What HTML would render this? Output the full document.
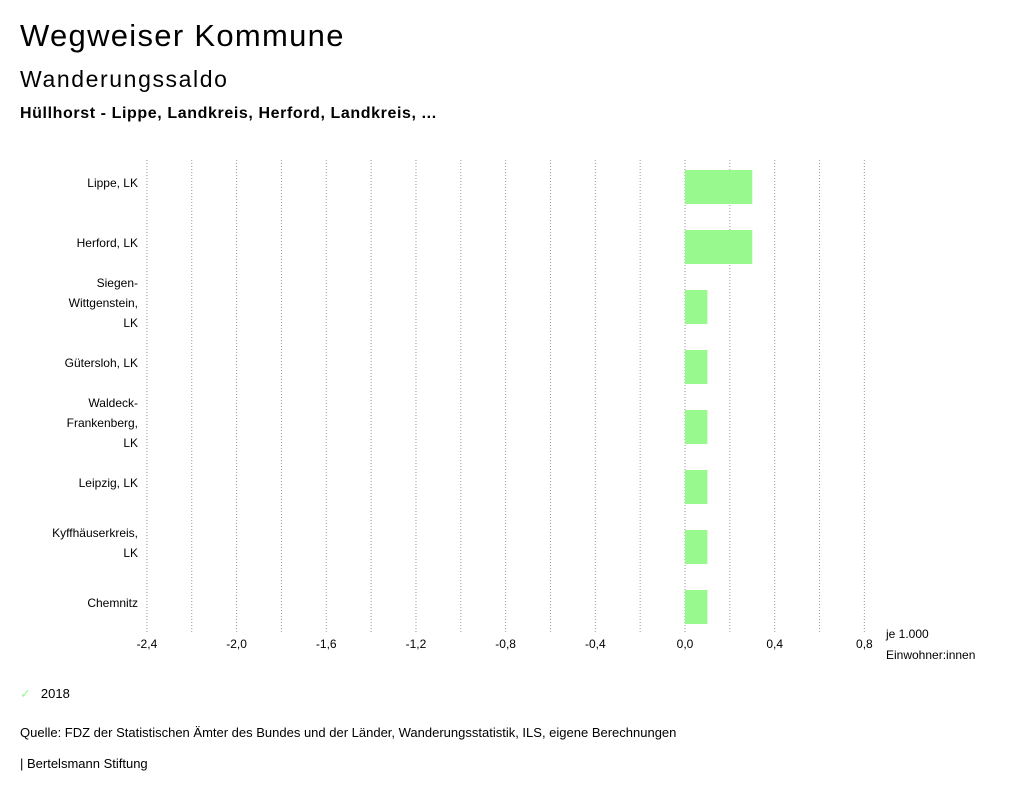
<!DOCTYPE html>
<html><head><meta charset="utf-8">
<style>
body{margin:0;background:#fff;font-family:"Liberation Sans",sans-serif;color:#000;}
#wrap{position:relative;width:1024px;height:797px;overflow:hidden;}
.t{position:absolute;white-space:nowrap;}
svg text{font-family:"Liberation Sans",sans-serif;font-size:12px;}
</style></head><body>
<div id="wrap">
<div class="t" style="left:20px;top:18px;font-size:31px;letter-spacing:1.3px;">Wegweiser Kommune</div>
<div class="t" style="left:20px;top:66px;font-size:23px;letter-spacing:1.6px;">Wanderungssaldo</div>
<div class="t" style="left:20px;top:105px;font-size:16px;font-weight:bold;letter-spacing:0.6px;">Hüllhorst - Lippe, Landkreis, Herford, Landkreis, ...</div>
<svg id="chart" width="1024" height="797" style="position:absolute;left:0;top:0"></svg>
<div class="t" style="left:20px;top:686px;font-size:13px;"><span style="color:#98f98f;margin-right:10px;">✓</span>2018</div>
<div class="t" style="left:20px;top:725px;font-size:13px;">Quelle: FDZ der Statistischen Ämter des Bundes und der Länder, Wanderungsstatistik, ILS, eigene Berechnungen</div>
<div class="t" style="left:20px;top:756px;font-size:13px;">| Bertelsmann Stiftung</div>
</div>
<script>
const categories=[["Lippe, LK"],["Herford, LK"],["Siegen-","Wittgenstein,","LK"],["Gütersloh, LK"],["Waldeck-","Frankenberg,","LK"],["Leipzig, LK"],["Kyffhäuserkreis,","LK"],["Chemnitz"]];
const values2018=[0.3,0.3,0.1,0.1,0.1,0.1,0.1,0.1];
const tickValues=[-2.4,-2.0,-1.6,-1.2,-0.8,-0.4,0.0,0.4,0.8];
const tickLabels=["-2,4","-2,0","-1,6","-1,2","-0,8","-0,4","0,0","0,4","0,8"];
const gridValues=[-2.4,-2.2,-2.0,-1.8,-1.6,-1.4,-1.2,-1.0,-0.8,-0.6,-0.4,-0.2,0.0,0.2,0.4,0.6,0.8];
const NS="http://www.w3.org/2000/svg",svg=document.getElementById("chart");
const x=v=>685+v*224.2;
const rowY=i=>186+i*60;
function mk(t,a){const e=document.createElementNS(NS,t);for(const k in a)e.setAttribute(k,a[k]);svg.appendChild(e);return e;}
gridValues.forEach(v=>{
const l=mk("line",{x1:x(v),x2:x(v),y1:160,y2:632,stroke:"#999","stroke-width":1,"stroke-dasharray":"1,2"});


});
tickValues.forEach((v,i)=>{
const t=mk("text",{x:x(v),y:648,"text-anchor":"middle"});t.textContent=tickLabels[i];


});
categories.forEach((c,i)=>{
const y0=rowY(i)-(c.length-1)*10+1;
c.forEach((s,j)=>{const t=mk("text",{x:138,y:y0+j*20,"text-anchor":"end"});t.textContent=s;

});
const v=values2018[i];
const r=mk("rect",{x:Math.min(x(0),x(v)),y:rowY(i)-16,width:Math.abs(x(v)-x(0)),height:34,fill:"#98f98f"});


});
const u1=mk("text",{x:886,y:638});u1.textContent="je 1.000";


const u2=mk("text",{x:886,y:659});u2.textContent="Einwohner:innen";


</script>
</body></html>
